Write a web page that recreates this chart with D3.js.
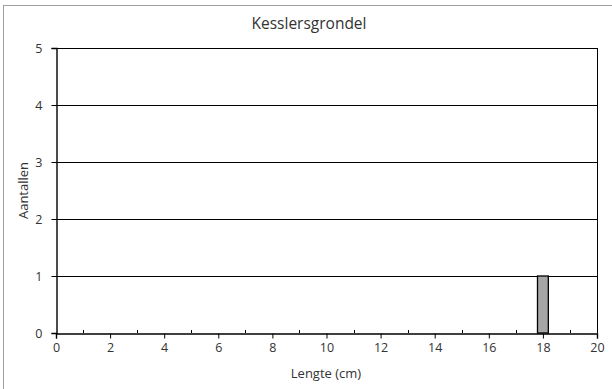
<!DOCTYPE html>
<html>
<head>
<meta charset="utf-8">
<script src="https://cdn.jsdelivr.net/npm/d3@7"></script>
<style>
  html, body { margin: 0; padding: 0; background: #fff; }
  svg { display: block; font-family: "Open Sans", "Noto Sans", sans-serif; }
</style>
</head>
<body>
<svg id="chart" width="612" height="389"></svg>
<script>
// Length classes (cm) and counts
const lengths = [18];
const counts = [1];
const xTicks = [0, 2, 4, 6, 8, 10, 12, 14, 16, 18, 20];
const xMinorTicks = [1, 3, 5, 7, 9, 11, 13, 15, 17, 19];
const yTicks = [0, 1, 2, 3, 4, 5];
const title = "Kesslersgrondel";
const xTitle = "Lengte (cm)";
const yTitle = "Aantallen";
const barWidthUnits = 0.4;

const svg = d3.select("#chart");
const W = 612, H = 389;
const m = { left: 56, right: 15, top: 48, bottom: 56 };
const font = "'Open Sans', sans-serif";

// outer frame
svg.append("rect")
  .attr("x", 3.5).attr("y", 5.5)
  .attr("width", W).attr("height", H)
  .attr("fill", "#fff").attr("stroke", "#a0a0a0").attr("stroke-width", 1);

const x = d3.scaleLinear().domain([0, 20]).range([m.left, W - m.right]);
const y = d3.scaleLinear().domain([0, 5]).range([H - m.bottom, m.top]);

// horizontal gridlines
svg.append("g")
  .selectAll("line")
  .data(yTicks.filter(d => d > 0))
  .join("line")
  .attr("x1", x(0)).attr("x2", x(20))
  .attr("y1", d => Math.round(y(d)) + 0.5).attr("y2", d => Math.round(y(d)) + 0.5)
  .attr("stroke", "#000").attr("stroke-width", 1);

// right edge of the plot area
svg.append("line")
  .attr("x1", Math.round(x(20)) + 0.5).attr("x2", Math.round(x(20)) + 0.5)
  .attr("y1", y(5)).attr("y2", y(0))
  .attr("stroke", "#000");

// bars
svg.append("g")
  .selectAll("rect")
  .data(lengths.map((l, i) => ({ l, c: counts[i] })))
  .join("rect")
  .attr("x", d => x(d.l - barWidthUnits / 2))
  .attr("width", d => x(d.l + barWidthUnits / 2) - x(d.l - barWidthUnits / 2))
  .attr("y", d => y(d.c))
  .attr("height", d => y(0) - y(d.c))
  .attr("fill", "#a6a6a6").attr("stroke", "#000").attr("stroke-width", 1.3);

// minor x ticks pointing inward
svg.append("g")
  .selectAll("line")
  .data(xMinorTicks)
  .join("line")
  .attr("x1", d => Math.round(x(d)) + 0.5).attr("x2", d => Math.round(x(d)) + 0.5)
  .attr("y1", y(0)).attr("y2", y(0) - 3)
  .attr("stroke", "#000");

// x axis
const xAxis = svg.append("g")
  .attr("transform", `translate(0,${Math.round(y(0)) + 0.5})`)
  .call(d3.axisBottom(x).tickValues(xTicks).tickSize(5).tickPadding(5).tickFormat(d3.format("d")));
xAxis.select(".domain").attr("stroke", "#000").attr("stroke-width", 1.4);
xAxis.selectAll(".tick line").attr("stroke", "#000");
xAxis.selectAll("text").attr("font-size", 12.5).attr("fill", "#333").attr("font-family", font);

// y axis
const yAxis = svg.append("g")
  .attr("transform", `translate(${Math.round(x(0)) + 0.5},0)`)
  .call(d3.axisLeft(y).tickValues(yTicks).tickSize(5).tickPadding(9).tickFormat(d3.format("d")));
yAxis.select(".domain").attr("stroke", "#000").attr("stroke-width", 1.4);
yAxis.selectAll(".tick line").attr("stroke", "#000");
yAxis.selectAll("text").attr("font-size", 12.5).attr("fill", "#333").attr("font-family", font);

// titles
svg.append("text")
  .attr("x", 309).attr("y", 29)
  .attr("text-anchor", "middle")
  .attr("font-family", font).attr("font-size", 15.5).attr("fill", "#333")
  .text(title);

svg.append("text")
  .attr("x", 326).attr("y", 378)
  .attr("text-anchor", "middle")
  .attr("font-family", font).attr("font-size", 13).attr("fill", "#333")
  .text(xTitle);

svg.append("text")
  .attr("transform", `translate(28,${(y(0) + y(5)) / 2}) rotate(-90)`)
  .attr("text-anchor", "middle")
  .attr("font-family", font).attr("font-size", 13).attr("fill", "#333")
  .text(yTitle);
</script>
</body>
</html>
